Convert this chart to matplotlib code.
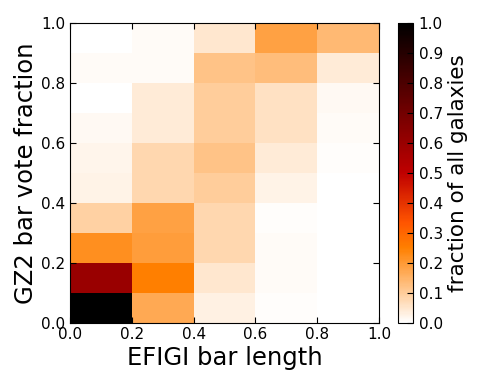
import numpy as np
import matplotlib
matplotlib.use("Agg")
import matplotlib.pyplot as plt

x_edges = [0.0, 0.2, 0.4, 0.6, 0.8, 1.0]
y_edges = [0.0, 0.1, 0.2, 0.3, 0.4, 0.5, 0.6, 0.7, 0.8, 0.9, 1.0]

# columns: EFIGI bar length bins; each list from bottom (y=0) to top (y=1)
col_00_02 = [1.00, 0.60, 0.22, 0.09, 0.025, 0.02, 0.015, 0.0, 0.01, 0.0]
col_02_04 = [0.17, 0.25, 0.195, 0.185, 0.08, 0.08, 0.04, 0.04, 0.008, 0.01]
col_04_06 = [0.03, 0.05, 0.08, 0.08, 0.10, 0.12, 0.10, 0.10, 0.12, 0.05]
col_06_08 = [0.005, 0.01, 0.01, 0.005, 0.025, 0.04, 0.06, 0.06, 0.13, 0.185]
col_08_10 = [0.0, 0.0, 0.0, 0.0, 0.0, 0.005, 0.01, 0.015, 0.04, 0.14]

cbar_ticks = [0.0, 0.1, 0.2, 0.3, 0.4, 0.5, 0.6, 0.7, 0.8, 0.9, 1.0]
ax_ticks = [0.0, 0.2, 0.4, 0.6, 0.8, 1.0]

Z = np.array([col_00_02, col_02_04, col_04_06, col_06_08, col_08_10]).T

fig = plt.figure(figsize=(4.85, 3.88), dpi=100)
ax = fig.add_axes([0.1443, 0.1675, 0.637, 0.773])
cax = fig.add_axes([0.8206, 0.1675, 0.031, 0.773])

mesh = ax.pcolormesh(x_edges, y_edges, Z, cmap="gist_heat_r", vmin=0, vmax=1)
ax.set_xlim(0, 1)
ax.set_ylim(0, 1)
ax.set_xticks(ax_ticks)
ax.set_yticks(ax_ticks)
ax.set_xticklabels([f"{t:.1f}" for t in ax_ticks])
ax.set_yticklabels([f"{t:.1f}" for t in ax_ticks])
ax.tick_params(direction="in", top=True, right=True, length=4, labelsize=11)
ax.tick_params(axis="x", pad=3)
ax.tick_params(axis="y", pad=3.5)
ax.set_xlabel("EFIGI bar length", fontsize=17.5, labelpad=3)
ax.set_ylabel("GZ2 bar vote fraction", fontsize=17.5, labelpad=2)

cb = fig.colorbar(mesh, cax=cax, ticks=cbar_ticks)
cb.ax.set_yticklabels([f"{t:.1f}" for t in cbar_ticks])
cb.ax.tick_params(direction="in", length=4, labelsize=11, pad=4)
cb.set_label("fraction of all galaxies", fontsize=15.5, labelpad=4)

fig.savefig("out.png", dpi=100)
